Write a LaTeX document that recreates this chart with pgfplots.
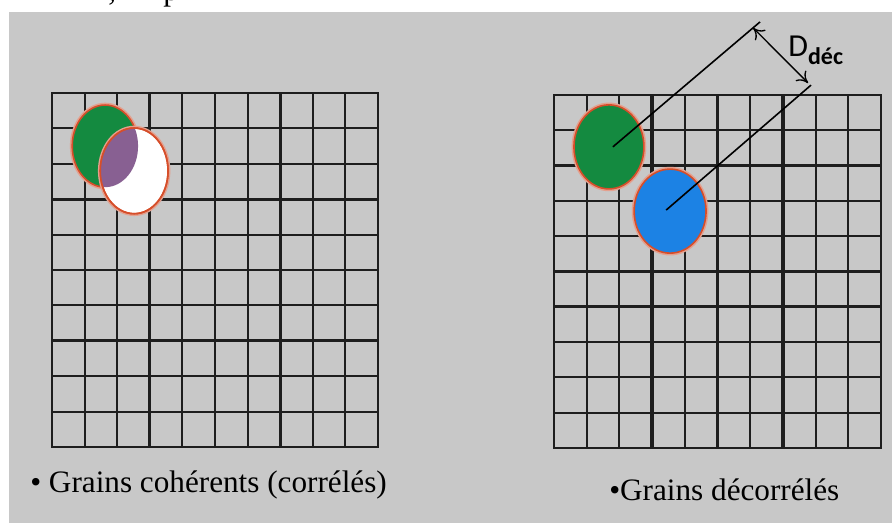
\documentclass[border=0pt]{standalone}
\usepackage{pgfplots}
\pgfplotsset{compat=1.18}
\usetikzlibrary{arrows.meta}
\usepackage{fontspec}
\setmainfont{Liberation Serif}
\newfontfamily\calib{Carlito}

\definecolor{bgc}{RGB}{200,200,200}
\definecolor{gridc}{RGB}{30,30,30}
\definecolor{grn}{RGB}{20,138,64}
\definecolor{blu}{RGB}{28,130,228}
\definecolor{pur}{RGB}{136,96,146}
\definecolor{rim}{RGB}{214,78,42}
\definecolor{halo}{RGB}{228,160,142}

\tikzset{grain/.style={fill=#1, draw=rim, line width=1.2pt}}

\pgfplotsset{
    panel/.style={
        scale only axis, anchor=south west,
        xmin=0, xmax=10, ymin=0, ymax=10,
        y dir=reverse,
        xtick={0,...,10}, ytick={0,...,10},
        xticklabel=\empty, yticklabel=\empty,
        extra x tick labels={}, extra y tick labels={},
        tick style={draw=none},
        grid=major,
        major grid style={draw=gridc, line width=1.6pt},
        axis line style={draw=gridc, line width=1.8pt},
        extra tick style={grid=major, major grid style={draw=gridc, line width=2.5pt}},
        axis background/.style={fill=bgc},
        clip=false,
    },
}

\begin{document}
\begin{tikzpicture}
\useasboundingbox (0,0) rectangle (669pt,392.25pt);
\fill[bgc] (6.75pt,0) rectangle (669pt,383.25pt);

% bouts de la ligne de texte coupee au-dessus
\node[anchor=base west, inner sep=0, font=\fontsize{23.4}{28}\selectfont] at (81pt,391.5pt) {,};
\node[anchor=base west, inner sep=0, font=\fontsize{23.4}{28}\selectfont] at (122.25pt,391.5pt) {p};

% grains coherents
\begin{axis}[panel, at={(39pt,57pt)}, width=244.5pt, height=265.5pt,
    extra x ticks={3,7}, extra y ticks={3,7}]
\draw[halo, line width=3.5pt] (axis cs:1.63,1.50) ellipse [x radius=1.01, y radius=1.16];
\draw[grain=grn] (axis cs:1.63,1.50) ellipse [x radius=1.01, y radius=1.16];
\draw[halo, line width=3.5pt] (axis cs:2.52,2.20) ellipse [x radius=1.04, y radius=1.21];
\draw[grain=white] (axis cs:2.52,2.20) ellipse [x radius=1.04, y radius=1.21];
\begin{scope}
\clip (axis cs:1.63,1.50) ellipse [x radius=1.01, y radius=1.16];
\fill[pur] (axis cs:2.52,2.20) ellipse [x radius=1.04, y radius=1.21];
\end{scope}
\draw[rim, line width=1.2pt] (axis cs:2.52,2.20) ellipse [x radius=1.04, y radius=1.21];
\end{axis}

% grains decorreles
\begin{axis}[panel, at={(415.5pt,56.25pt)}, width=245.25pt, height=264.75pt,
    extra x ticks={3,7}, extra y ticks={2,6}]
\draw[halo, line width=3.5pt] (axis cs:1.68,1.47) ellipse [x radius=1.07, y radius=1.19];
\draw[grain=grn] (axis cs:1.68,1.47) ellipse [x radius=1.07, y radius=1.19];
\draw[halo, line width=3.5pt] (axis cs:3.55,3.29) ellipse [x radius=1.10, y radius=1.19];
\draw[grain=blu] (axis cs:3.55,3.29) ellipse [x radius=1.10, y radius=1.19];
\addplot[black, line width=1.2pt] coordinates {(1.80,1.47) (6.30,-2.07)};
\addplot[black, line width=1.2pt] coordinates {(3.43,3.26) (7.86,-0.28)};
\addplot[black, line width=1pt, {To[length=8pt,width=11pt]}-{To[length=8pt,width=11pt]}]
    coordinates {(6.09,-1.90) (7.77,-0.34)};
\node[anchor=base west, inner sep=0] at (axis cs:7.16,-1.08)
    {\calib\fontsize{24}{24}\selectfont D\raisebox{-6pt}{\fontsize{18}{18}\selectfont\bfseries déc}};
\end{axis}

\node[anchor=base west, inner sep=0, font=\fontsize{23.4}{28}\selectfont] at (22.5pt,22.5pt)
    {• Grains cohérents (corrélés)};
\node[anchor=base west, inner sep=0, font=\fontsize{23.4}{28}\selectfont] at (456.75pt,16.5pt)
    {•Grains décorrélés};
\end{tikzpicture}
\end{document}
